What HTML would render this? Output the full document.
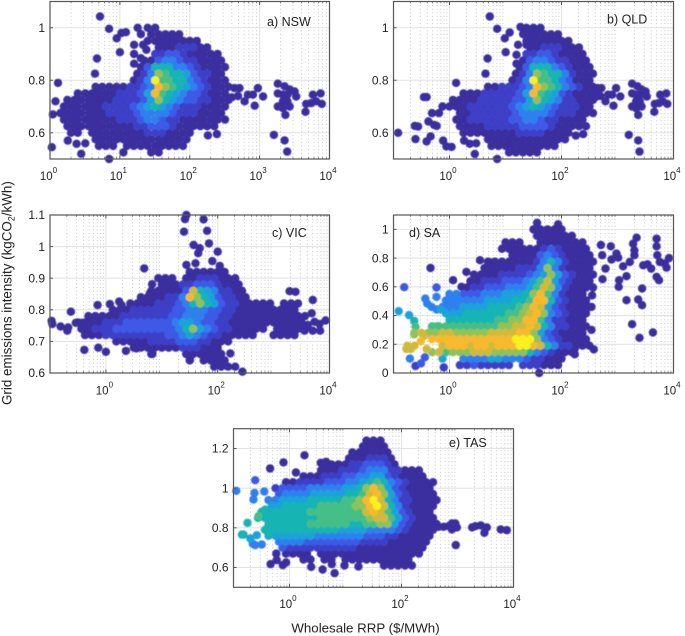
<!DOCTYPE html>
<html lang="en">
<head>
<meta charset="utf-8">
<title>Grid emissions intensity vs wholesale RRP</title>
<style>
html,body{margin:0;padding:0;background:#fff;}
svg{display:block;font-family:"Liberation Sans",Arial,sans-serif;}
</style>
</head>
<body>
<svg id="figure" width="685" height="636" viewBox="0 0 685 636" xmlns="http://www.w3.org/2000/svg">
  <defs>
    <filter id="soften" x="-5%" y="-5%" width="110%" height="110%"><feGaussianBlur stdDeviation="0.5"/></filter>
  </defs>
  <text transform="translate(11.5,405) rotate(-90)" text-anchor="start" font-size="13.4" fill="#222">Grid emissions intensity (kgCO<tspan font-size="9" dy="3">2</tspan><tspan dy="-3">/kWh)</tspan></text>
  <text x="365.5" y="632.5" text-anchor="middle" font-size="13.3" fill="#222">Wholesale RRP ($/MWh)</text>
</svg>
<script>
// Density level colours (index = char in the density rows, a = 10)
const densityColors = ["#3a2e9e","#3e3fc6","#3e5ae6","#2f80ef","#1ba2da","#16b4b2","#45bf88","#90c25a","#cfbb3a","#f8b92d","#f9f01b"];

// RRP bin centres ($/MWh) for the panel with 4 decades
const nswXBins = [1,1.26,1.58,2,2.5,3.2,4,5,6.3,8,10,12.6,15.8,20,25,32,40,50,63,80,100,126,158,200,250,320,400];
// RRP bin centres ($/MWh) for the panels with 5 decades
const wideXBins = [0.1,0.133,0.178,0.237,0.316,0.422,0.562,0.75,1,1.33,1.78,2.37,3.16,4.22,5.62,7.5,10,13.3,17.8,23.7,31.6,42.2,56.2,75,100,133,178,237,316,422,562,750,1000,1330,1780,2370,3160];

// a) NSW
const nswYBins = [1,0.975,0.95,0.925,0.9,0.875,0.85,0.825,0.8,0.775,0.75,0.725,0.7,0.675,0.65,0.625,0.6,0.575,0.55,0.525];
const nswRowStart = [14,14,14,15,15,13,13,12,12,6,4,2,2,1,2,2,3,6,7,10];
const nswDensity = ["00","00000","00000000","00011100","1122100000","002332110000","0255533210000","0137655421100","013a6655321000","00000112397654321000","0000001112496543221000","000000011112475432211000","000000111123454321110000","000000011112333321110000","000000001112332110000000","0000000000112221000000","00.000000001110000","00000000000000","000.000000000","0...00"];
const nswOutX = [5.2,7,9,10.5,12.2,10,4.7,4.4,1.3,18,20,16,21.5,24,16,16,20,1.2,1.1,1.06,2.8,7,1.8,2.4,3.2,182,245,1600,2280,2480,437,515,610,680,800,946,850,1120,490,400,1820,2280,1820,2150,2500,3170,3340,2690,2150,2500,1820,2150,2340,2690,4540,4640,5480,5780,7450,6450,7760];
const nswOutY = [1.043,0.996,0.96,0.98,0.983,0.907,0.883,0.825,0.79,1,0.976,0.935,0.935,0.916,0.9,0.863,0.884,0.72,0.67,0.545,0.52,0.5,0.57,0.558,0.56,0.59,0.595,0.592,0.571,0.528,0.77,0.77,0.72,0.745,0.745,0.77,0.703,0.738,0.74,0.735,0.787,0.777,0.75,0.745,0.745,0.757,0.738,0.765,0.72,0.72,0.7,0.694,0.668,0.7,0.68,0.71,0.713,0.745,0.75,0.72,0.71];

// b) QLD
const qldYBins = [1,0.975,0.95,0.925,0.9,0.875,0.85,0.825,0.8,0.775,0.75,0.725,0.7,0.675,0.65,0.625,0.6,0.575,0.55,0.525];
const qldRowStart = [19,19,19,19,19,18,18,17,17,13,10,8,7,5,9,9,10,13,14,16];
const qldDensity = ["000","00000","0000000","00111000","112210000","0233211000","02555321000","013765531000","013a66532000","0011123976532100","00011111249654210000","000011111224754311000","0000111111234543211100","00..00111111233332111000","0011111122332110000","0000111112222100000","0000000011110000","000000000000","0000000000","00000"];
const qldOutX = [5.25,7.1,9.7,11.9,18.5,20.6,16.8,23.7,10.1,15.7,15.7,4.8,4.4,1.31,0.39,0.35,1.24,0.121,0.24,0.275,0.247,0.39,0.46,0.77,0.88,1.09,1.82,2.3,3,2.83,7.1,0.42,0.53,0.59,180,244,1590,2340,2470,437,515,610,680,800,946,850,1120,490,400,1820,2280,1820,2150,2500,3170,3340,2690,2150,2500,1820,2150,2340,2690,4540,4640,5480,5780,7450,6450,7760];
const qldOutY = [1.043,0.996,0.96,0.982,1.003,0.976,0.935,0.935,0.907,0.897,0.863,0.883,0.825,0.79,0.736,0.736,0.72,0.6,0.626,0.624,0.576,0.567,0.586,0.57,0.548,0.546,0.57,0.558,0.56,0.519,0.5,0.643,0.63,0.626,0.589,0.595,0.592,0.571,0.528,0.77,0.77,0.72,0.745,0.745,0.77,0.703,0.738,0.74,0.735,0.787,0.777,0.75,0.745,0.745,0.757,0.738,0.765,0.72,0.72,0.7,0.694,0.668,0.7,0.68,0.71,0.713,0.745,0.75,0.72,0.71];

// c) VIC
const vicYBins = [0.92,0.9,0.88,0.86,0.84,0.82,0.8,0.78,0.76,0.74,0.72,0.7,0.68,0.66,0.64,0.62];
const vicRowStart = [20,15,16,14,13,11,9,5,4,4,5,9,12,14,20,23];
const vicDensity = ["000000","000.00111000","000112221000","00000285431100","0000113975421100","000011123575421100000.000","000111111223332211000000000","00000111111122333221100000000000","000011122222223443221100000000000","001112222222223574321100000.00000","0001111111112234321100000..0000","00000111122211000","0000000111000","0....000000","0.0000","0000"];
const vicOutX = [27.6,26,56,25,64.5,70,37,47.6,44.7,100,80,27.6,40,109,4.84,6.7,6.1,0.237,0.71,1.18,1.73,1.9,0.107,0.11,0.155,0.212,0.204,0.29,0.37,0.41,0.73,1,2.28,3.5,6.8,1930,2460,5030,4800,4090,5400,6630,8500,5030,6800,3570,277,168,32];
const vicOutY = [1.1,1.087,1.086,1.047,1.05,1.01,1.005,0.995,0.979,0.984,0.954,0.942,0.947,0.939,0.931,0.881,0.852,0.794,0.815,0.818,0.826,0.815,0.765,0.755,0.747,0.744,0.734,0.759,0.759,0.673,0.68,0.667,0.67,0.678,0.66,0.859,0.857,0.831,0.789,0.752,0.762,0.755,0.766,0.734,0.734,0.734,0.604,0.662,0.641];

// d) SA
const saYBins = [1,0.955,0.91,0.865,0.82,0.775,0.73,0.685,0.64,0.595,0.55,0.505,0.46,0.415,0.37,0.325,0.28,0.235,0.19,0.145,0.1,0.055];
const saRowStart = [20,20,16,15,17,13,13,11,11,10,8,7,7,7,8,5,3,5,2,5,7,9];
const saDensity = ["00000","000000","000..0000000","0000001210000","000023210000","0000000135310000","0000011137310000","000011112347421000","001112223468421000","0112223334687310000","33222333444579631000","333333444455699521000","3334444555567984210000","444555555667897321000","55555556677996311000","66666666667788985311000","7877887777788889974210000","999999999999aaa73210000","88...89998998999aa985311000","786777888777775321000","4..333344333211000","11211111.111000"];
const saOutX = [0.124,0.155,0.19,0.234,0.247,0.234,0.348,0.308,0.17,0.204,0.39,0.196,0.247,0.31,0.363,0.79,0.457,0.586,0.586,0.37,0.4,0.48,0.59,0.7,0.51,0.61,1.16,1.64,2,3.5,5.4,10.4,40,506,760,960,532,780,1030,610,1260,1660,2000,2190,1900,2000,5000,5000,5130,5700,7000,8300,7500,2880,3430,4000,5000,5500,540,1070,1450,1050,1450,2340,2750,2750,1820,2470,4290,378,173,173,343,343,352,36.7,87];
const saOutY = [0.43,0.597,0.403,0.363,0.322,0.269,0.257,0.222,0.167,0.167,0.167,0.1,0.049,0.067,0.109,0.039,0.731,0.595,0.53,0.518,0.484,0.46,0.442,0.442,0.322,0.326,0.646,0.6,0.704,0.785,0.769,0.894,0,0.891,0.882,0.831,0.82,0.79,0.803,0.727,0.743,0.773,0.82,0.942,0.9,0.854,0.935,0.882,0.82,0.773,0.762,0.8,0.734,0.75,0.757,0.727,0.669,0.646,0.653,0.646,0.674,0.6,0.507,0.512,0.472,0.588,0.34,0.245,0.282,0.164,0.13,0.17,0.3,0.46,0.54,1.046,1.035];
const saOutDensity = [4,2,4,5,6,7,8,9,8,8,8,3,1,2,2,1,0,2,3,3,3,3,3,4,6,6,0,0,0,0,0,0,0,0,0,0,0,0,0,0,0,0,0,0,0,0,0,0,0,0,0,0,0,0,0,0,0,0,0,0,0,0,0,0,0,0,0,0,0,0,0,0,0,0,0,0,0];

// e) TAS
const tasYBins = [1.24,1.21,1.18,1.15,1.12,1.09,1.06,1.03,1,0.97,0.94,0.91,0.88,0.85,0.82,0.79,0.76,0.73,0.7,0.67,0.64,0.61];
const tasRowStart = [19,18,17,16,13,12,10,7,6,6,5,5,4,3,5,4,5,6,7,7,10,21];
const tasDensity = ["000","0000","000000","0001110","00001122210","000111233311000","000111223344210000","0011112223345653210000","12222333334457974210000","23333444445568974210000","334444555556679a853110000","445555566666779a85310000","5555555666666668986421000","55555555566666667886421000","55555566666655" + "66774210000","5555555555544443333210000","44444443333333222110" + "0000","3333222222221111000000","211111111110000000000","0000.000000000000000","00.00.0000000000","00000"];
const tasOutX = [0.112,0.244,0.237,0.228,0.355,0.178,0.141,0.151,0.2,0.221,0.244,0.32,0.261,0.37,0.28,0.42,0.45,0.78,1.85,1.3,3.6,4.5,3.9,0.46,0.58,0.59,0.76,0.87,2.44,3.9,5.7,6.4,9.6,17,457,562,692,794,912,794,977,933,1820,2090,2610,3330,3020,5900,7590];
const tasOutY = [0.987,1.04,0.976,0.943,0.983,0.825,0.766,0.766,0.746,0.72,0.713,0.716,0.763,0.892,0.859,0.771,1.099,1.13,1.166,1.079,1.128,1.133,1.096,0.617,0.67,0.637,0.612,0.625,0.603,0.59,0.617,0.571,0.61,0.605,0.805,0.805,0.808,0.822,0.822,0.792,0.802,0.713,0.802,0.808,0.812,0.802,0.775,0.792,0.788];
const tasOutDensity = [3,2,3,3,3,5,5,5,4,3,3,3,4,5,6,5,0,0,0,0,0,0,0,0,0,0,0,0,0,0,0,0,0,0,0,0,0,0,0,0,0,0,0,0,0,0,0,0,0];

// Axis tick values
const nswXTicks = [0,1,2,3,4];
const wideXTicks = [0,2,4];
const nswYTicks = [0.6,0.8,1];
const vicYTicks = [0.6,0.7,0.8,0.9,1,1.1];
const saYTicks = [0,0.2,0.4,0.6,0.8,1];
const tasYTicks = [0.6,0.8,1,1.2];

const NS = "http://www.w3.org/2000/svg";
const svg = document.getElementById("figure");

function make(parent, tag, attrs) {
  const el = document.createElementNS(NS, tag);
  for (const k in attrs) el.setAttribute(k, attrs[k]);
  parent.appendChild(el);
  return el;
}

function drawPanel(p) {
  const group = make(svg, "g", {});
  
  

  const xs = v => p.x + (Math.log10(v) - p.logMin) / (p.logMax - p.logMin) * p.w;
  const ys = v => p.y + (p.yMax - v) / (p.yMax - p.yMin) * p.h;

  const grid = make(group, "g", {});
  
  
  for (let d = p.logMin; d < p.logMax; d++) {
    for (let m = 2; m <= 9; m++) {
      const gx = xs(m * Math.pow(10, d));
      make(grid, "line", {x1: gx, x2: gx, y1: p.y, y2: p.y + p.h, stroke: "#bdbdbd", "stroke-width": 0.8, "stroke-dasharray": "1 2.6"});
      make(grid, "line", {x1: gx, x2: gx, y1: p.y, y2: p.y + 1.8, stroke: "#555", "stroke-width": 0.7});
      make(grid, "line", {x1: gx, x2: gx, y1: p.y + p.h, y2: p.y + p.h - 1.8, stroke: "#555", "stroke-width": 0.7});
    }
  }
  p.xTicks.forEach(e => {
    const gx = p.x + (e - p.logMin) / (p.logMax - p.logMin) * p.w;
    make(grid, "line", {x1: gx, x2: gx, y1: p.y, y2: p.y + p.h, stroke: "#e4e4e4", "stroke-width": 1.1});
  });
  p.yTicks.forEach(v => {
    make(grid, "line", {x1: p.x, x2: p.x + p.w, y1: ys(v), y2: ys(v), stroke: "#e4e4e4", "stroke-width": 1.1});
  });

  // Collect points from the binned rows and the separately read outliers
  const pts = [];
  const half = (xs(p.bins[1]) - xs(p.bins[0])) / 2;
  p.rowY.forEach((yv, r) => {
    const row = p.density[r];
    for (let i = 0; i < row.length; i++) {
      if (row[i] === ".") continue;
      pts.push({px: xs(p.bins[p.start[r] + i]) + (r % 2 ? half : 0), py: ys(yv), level: parseInt(row[i], 16)});
    }
  });
  p.outX.forEach((xv, i) => {
    pts.push({px: xs(xv), py: ys(p.outY[i]), level: p.outD ? p.outD[i] : 0});
  });
  pts.sort((a, b) => a.level - b.level);

  const clip = make(group, "clipPath", {id: "clip-" + p.name});
  make(clip, "rect", {x: p.x - 5, y: p.y - 5, width: p.w + 10, height: p.h + 10});

  const clipped = make(group, "g", {"clip-path": "url(#clip-" + p.name + ")"});
  const cloud = make(clipped, "g", {filter: "url(#soften)"});
  
  
  pts.forEach(pt => {
    const dot = make(cloud, "circle", {cx: pt.px.toFixed(1), cy: pt.py.toFixed(1), r: 4.2, fill: densityColors[pt.level]});
    
    
  });

  const frame = make(group, "rect", {x: p.x, y: p.y, width: p.w, height: p.h, fill: "none", stroke: "#555", "stroke-width": 1.2});
  
  

  p.yTicks.forEach(v => {
    make(group, "line", {x1: p.x, x2: p.x + 3, y1: ys(v), y2: ys(v), stroke: "#555", "stroke-width": 1});
    const t = make(group, "text", {x: p.x - 5, y: ys(v) + 4.2, "text-anchor": "end", "font-size": 12, fill: "#222"});
    
    
    t.textContent = String(v);
  });

  p.xTicks.forEach(e => {
    const tx = p.x + (e - p.logMin) / (p.logMax - p.logMin) * p.w;
    make(group, "line", {x1: tx, x2: tx, y1: p.y + p.h, y2: p.y + p.h - 3.5, stroke: "#555", "stroke-width": 1});
    make(group, "line", {x1: tx, x2: tx, y1: p.y, y2: p.y + 3.5, stroke: "#555", "stroke-width": 1});
    const t = make(group, "text", {x: tx - 1.5, y: p.y + p.h + p.tickGap, "text-anchor": "middle", "font-size": 11.5, fill: "#222"});
    
    
    const base = make(t, "tspan", {});
    base.textContent = "10";
    const sup = make(t, "tspan", {"font-size": 8, dy: -7});
    sup.textContent = String(e);
  });

  const label = make(group, "text", {x: p.labelX, y: p.labelY, "font-size": 12.5, fill: "#222"});
  
  
  label.textContent = p.label;
}

drawPanel({name: "nsw", label: "a) NSW", x: 50, y: 1.5, w: 279.5, h: 157.5, logMin: 0, logMax: 4, yMin: 0.5, yMax: 1.1, tickGap: 21, labelX: 267, labelY: 26, xTicks: nswXTicks, yTicks: nswYTicks, bins: nswXBins, rowY: nswYBins, start: nswRowStart, density: nswDensity, outX: nswOutX, outY: nswOutY});
drawPanel({name: "qld", label: "b) QLD", x: 393.5, y: 1.5, w: 280, h: 157.5, logMin: -1, logMax: 4, yMin: 0.5, yMax: 1.1, tickGap: 21, labelX: 607, labelY: 23.5, xTicks: wideXTicks, yTicks: nswYTicks, bins: wideXBins, rowY: qldYBins, start: qldRowStart, density: qldDensity, outX: qldOutX, outY: qldOutY});
drawPanel({name: "vic", label: "c) VIC", x: 50, y: 215, w: 279.5, h: 158, logMin: -1, logMax: 4, yMin: 0.6, yMax: 1.1, tickGap: 21.5, labelX: 272, labelY: 237, xTicks: wideXTicks, yTicks: vicYTicks, bins: wideXBins, rowY: vicYBins, start: vicRowStart, density: vicDensity, outX: vicOutX, outY: vicOutY});
drawPanel({name: "sa", label: "d) SA", x: 393.5, y: 215, w: 280, h: 158, logMin: -1, logMax: 4, yMin: 0, yMax: 1.1, tickGap: 21.5, labelX: 409, labelY: 237, xTicks: wideXTicks, yTicks: saYTicks, bins: wideXBins, rowY: saYBins, start: saRowStart, density: saDensity, outX: saOutX, outY: saOutY, outD: saOutDensity});
drawPanel({name: "tas", label: "e) TAS", x: 233.5, y: 428.7, w: 280, h: 158.6, logMin: -1, logMax: 4, yMin: 0.5, yMax: 1.3, tickGap: 20.5, labelX: 449, labelY: 447, xTicks: wideXTicks, yTicks: tasYTicks, bins: wideXBins, rowY: tasYBins, start: tasRowStart, density: tasDensity, outX: tasOutX, outY: tasOutY, outD: tasOutDensity});
</script>
</body>
</html>
